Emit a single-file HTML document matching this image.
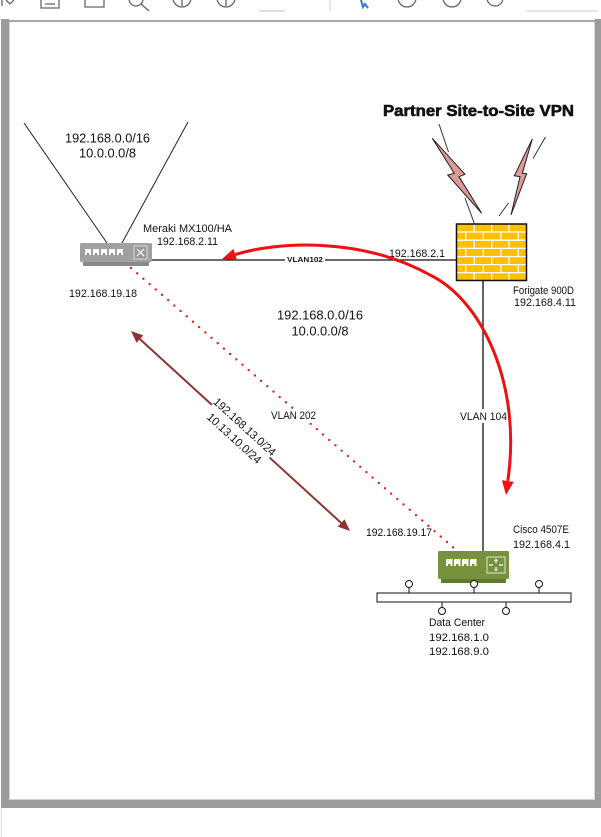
<!DOCTYPE html>
<html>
<head>
<meta charset="utf-8">
<style>
  html,body{margin:0;padding:0;background:#fff;}
  svg{display:block;}
  text{font-family:"Liberation Sans",Arial,sans-serif;fill:#111;}
</style>
</head>
<body>
<svg width="601" height="837" viewBox="0 0 601 837" xmlns="http://www.w3.org/2000/svg">
  <!-- page background -->
  <rect x="0" y="0" width="601" height="837" fill="#ffffff"/>

  <!-- toolbar remnants -->
  <g fill="none" stroke="#666" stroke-width="1.3">
    <path d="M2,0 L2,6 M6,0 L10,4 L14,0"/>
    <path d="M41,0 L41,8 L59,8 L59,0 M45,4 L55,4"/>
    <path d="M85,0 L85,7 L104,7 L104,0"/>
    <circle cx="136" cy="-1" r="7"/>
    <path d="M141,4 L149,11"/>
    <circle cx="182" cy="-2" r="9"/>
    <path d="M182,-2 L182,6"/>
    <circle cx="226" cy="-2" r="9"/>
    <path d="M226,-2 L226,6"/>
    <circle cx="407" cy="-2" r="9"/>
    <circle cx="452" cy="-2" r="9"/>
    <circle cx="495" cy="-2" r="8"/>
  </g>
  <path d="M259,11 L285,11" stroke="#bbb" stroke-width="1"/>
  <path d="M330,0 L330,11" stroke="#ccc" stroke-width="1"/>
  <path d="M527,11 L598,11" stroke="#ccc" stroke-width="1"/>
  <path d="M361,0 L363,7 L365,4 L368,8" stroke="#2a7ad8" stroke-width="2" fill="none"/>

  <!-- frame -->
  <rect x="1" y="19" width="8" height="789" fill="#9c9c9c"/>
  <rect x="595" y="19" width="6" height="789" fill="#9c9c9c"/>
  <rect x="1" y="800" width="600" height="8" fill="#9c9c9c"/>
  <rect x="9" y="20" width="586" height="2" fill="#a8a8a8"/>
  <rect x="9" y="22" width="586" height="778" fill="#ffffff"/>
  <path d="M9.5,22 L9.5,799.5 L594.5,799.5 L594.5,22" fill="none" stroke="#d4d4d4" stroke-width="1"/>
  <path d="M1.5,808 L1.5,837" stroke="#e2e2e2" stroke-width="1.5"/>

  <!-- V lines at Meraki -->
  <path d="M24,123 L107,243" stroke="#222" stroke-width="1"/>
  <path d="M188,122 L122,243" stroke="#222" stroke-width="1"/>

  <!-- horizontal VLAN102 line -->
  <path d="M152,260 L457,260" stroke="#111" stroke-width="1.3"/>
  <!-- vertical VLAN104 line -->
  <path d="M483,281 L483,551" stroke="#111" stroke-width="1.3"/>

  <!-- bolt connector lines -->
  <g stroke="#333" stroke-width="1">
    <path d="M439,124 L448.5,152"/>
    <path d="M465,198 L474.5,224"/>
    <path d="M545.5,137 L533,158.5"/>
    <path d="M508.5,203 L499,216"/>
  </g>
  <!-- lightning bolts -->
  <polygon points="432.3,138.3 465,174.3 459,176.7 481.7,213.3 447.7,175 454.3,173.3" fill="#dc9a98" stroke="#222" stroke-width="1"/>
  <polygon points="532.3,139 514.3,175.7 520,176.7 511,215 526.7,173.7 522.3,173.3" fill="#dc9a98" stroke="#222" stroke-width="1"/>

  <!-- title -->
  <text x="478.5" y="116" font-size="15.5" font-weight="bold" text-anchor="middle" textLength="191" lengthAdjust="spacingAndGlyphs" stroke="#111" stroke-width="0.6">Partner Site-to-Site VPN</text>

  <!-- firewall -->
  <rect x="456.5" y="224" width="70" height="56.5" fill="#ffc000"/>
  <g stroke="#ffffff" stroke-width="1.3">
    <path d="M456.5,232 L526.5,232 M456.5,240.2 L526.5,240.2 M456.5,248.4 L526.5,248.4 M456.5,256.6 L526.5,256.6 M456.5,264.6 L526.5,264.6 M456.5,272.6 L526.5,272.6"/>
    <path d="M474.3,224 L474.3,232 M491.7,224 L491.7,232 M509,224 L509,232"/>
    <path d="M465.7,232 L465.7,240.2 M483.3,232 L483.3,240.2 M501,232 L501,240.2 M518.3,232 L518.3,240.2"/>
    <path d="M474.3,240.2 L474.3,248.4 M491.7,240.2 L491.7,248.4 M509,240.2 L509,248.4"/>
    <path d="M465.7,248.4 L465.7,256.6 M483.3,248.4 L483.3,256.6 M501,248.4 L501,256.6 M518.3,248.4 L518.3,256.6"/>
    <path d="M474.3,256.6 L474.3,264.6 M491.7,256.6 L491.7,264.6 M509,256.6 L509,264.6"/>
    <path d="M465.7,264.6 L465.7,272.6 M483.3,264.6 L483.3,272.6 M501,264.6 L501,272.6 M518.3,264.6 L518.3,272.6"/>
    <path d="M474.3,272.6 L474.3,280.5 M491.7,272.6 L491.7,280.5 M509,272.6 L509,280.5"/>
  </g>
  <rect x="456.5" y="224" width="70" height="56.5" fill="none" stroke="#111" stroke-width="1.5"/>

  <!-- Meraki device -->
  <rect x="83" y="260" width="66" height="6" rx="1" fill="#8a8a8a"/>
  <rect x="80" y="243" width="72" height="19" rx="1.5" fill="#a0a0a0"/>
  <g fill="#ffffff">
    <rect x="85" y="249" width="6" height="6"/>
    <rect x="93" y="249" width="6" height="6"/>
    <rect x="101" y="249" width="6" height="6"/>
    <rect x="109" y="249" width="6" height="6"/>
    <rect x="117" y="249" width="6" height="6"/>
  </g>
  <g fill="#8a8a8a">
    <rect x="87" y="253" width="2" height="2"/>
    <rect x="95" y="253" width="2" height="2"/>
    <rect x="103" y="253" width="2" height="2"/>
    <rect x="111" y="253" width="2" height="2"/>
    <rect x="119" y="253" width="2" height="2"/>
  </g>
  <rect x="134" y="246" width="13" height="13" fill="#999" stroke="#d8d8d8" stroke-width="1"/>
  <path d="M137,249 L144,256 M144,249 L137,256" stroke="#fff" stroke-width="1.2"/>

  <!-- Cisco device -->
  <rect x="441" y="577" width="65" height="6" rx="1" fill="#5f7a2e"/>
  <rect x="438" y="551" width="71" height="28" rx="1.5" fill="#76923c"/>
  <g fill="#ffffff">
    <rect x="446" y="559" width="6.5" height="7"/>
    <rect x="454" y="559" width="6.5" height="7"/>
    <rect x="462" y="559" width="6.5" height="7"/>
    <rect x="470" y="559" width="6.5" height="7"/>
  </g>
  <g fill="#76923c">
    <rect x="448" y="564" width="2.5" height="2"/>
    <rect x="456" y="564" width="2.5" height="2"/>
    <rect x="464" y="564" width="2.5" height="2"/>
    <rect x="472" y="564" width="2.5" height="2"/>
  </g>
  <rect x="487" y="557" width="18" height="16" fill="none" stroke="#dfe8cc" stroke-width="1"/>
  <g stroke="#fff" stroke-width="1.2" fill="none">
    <path d="M496,559 L496,563 M496,567 L496,571 M489,565 L493,565 M499,565 L503,565"/>
  </g>
  <g fill="#fff">
    <polygon points="494,561 496,558.5 498,561"/>
    <polygon points="494,569 496,571.5 498,569"/>
  </g>

  <!-- bus bar -->
  <rect x="377" y="593" width="194" height="9" fill="#fff" stroke="#111" stroke-width="1"/>
  <g stroke="#111" stroke-width="1" fill="#fff">
    <path d="M409,587.5 L409,593 M474,587.5 L474,593 M539,587.5 L539,593"/>
    <path d="M442,602 L442,607.5 M506,602 L506,607.5"/>
    <circle cx="409" cy="584" r="3.5"/>
    <circle cx="474" cy="584" r="3.5"/>
    <circle cx="539" cy="584" r="3.5"/>
    <circle cx="442" cy="611" r="3.5"/>
    <circle cx="506" cy="611" r="3.5"/>
  </g>

  <!-- red dotted line -->
  <path d="M131,268 L455,549" stroke="#e02020" stroke-width="2.4" stroke-linecap="round" stroke-dasharray="0 8.2" fill="none"/>

  <!-- brown double arrow -->
  <path d="M139.9,339.1 L341.1,522.9" stroke="#8e3431" stroke-width="2"/>
  <polygon points="131,331 136.5,342.8 143.3,335.4" fill="#8e3431"/>
  <polygon points="350,531 337.7,526.6 344.5,519.2" fill="#8e3431"/>

  <!-- white label backgrounds -->
  <rect x="285" y="255" width="40" height="9" fill="#fff"/>
  <rect x="269" y="409" width="49" height="14" fill="#fff"/>
  <rect x="459" y="409" width="49" height="14" fill="#fff"/>
  <g transform="translate(239.5,432.5) rotate(42.4)">
    <rect x="-39" y="-16" width="78" height="32" fill="#fff"/>
    <text x="0" y="-3.8" font-size="11.5" text-anchor="middle" textLength="80" lengthAdjust="spacingAndGlyphs">192.168.13.0/24</text>
    <text x="0" y="11.8" font-size="11.5" text-anchor="middle" textLength="69" lengthAdjust="spacingAndGlyphs">10.13.10.0/24</text>
  </g>

  <!-- labels -->
  <text x="107.5" y="142.5" font-size="13" text-anchor="middle" textLength="85" lengthAdjust="spacingAndGlyphs">192.168.0.0/16</text>
  <text x="107.5" y="157.5" font-size="13" text-anchor="middle" textLength="57" lengthAdjust="spacingAndGlyphs">10.0.0.0/8</text>

  <text x="143" y="232" font-size="11" textLength="89" lengthAdjust="spacingAndGlyphs">Meraki MX100/HA</text>
  <text x="187.5" y="245" font-size="11" text-anchor="middle" textLength="61" lengthAdjust="spacingAndGlyphs">192.168.2.11</text>
  <text x="103" y="297" font-size="11" text-anchor="middle" textLength="68" lengthAdjust="spacingAndGlyphs">192.168.19.18</text>

  <text x="389" y="257" font-size="11" textLength="56" lengthAdjust="spacingAndGlyphs">192.168.2.1</text>
  <text x="305" y="262" font-size="7.5" font-weight="bold" text-anchor="middle" textLength="36" lengthAdjust="spacingAndGlyphs">VLAN102</text>

  <text x="513" y="294" font-size="11" textLength="61" lengthAdjust="spacingAndGlyphs">Forigate 900D</text>
  <text x="514" y="306" font-size="11" textLength="62" lengthAdjust="spacingAndGlyphs">192.168.4.11</text>

  <text x="320" y="319.5" font-size="13" text-anchor="middle" textLength="86" lengthAdjust="spacingAndGlyphs">192.168.0.0/16</text>
  <text x="320" y="335.5" font-size="13" text-anchor="middle" textLength="57" lengthAdjust="spacingAndGlyphs">10.0.0.0/8</text>

  <text x="293.5" y="419" font-size="11" text-anchor="middle" textLength="45" lengthAdjust="spacingAndGlyphs">VLAN 202</text>
  <text x="483.5" y="420" font-size="11" text-anchor="middle" textLength="47" lengthAdjust="spacingAndGlyphs">VLAN 104</text>

  <text x="366" y="536" font-size="11" textLength="66" lengthAdjust="spacingAndGlyphs">192.168.19.17</text>
  <text x="513" y="533" font-size="11" textLength="56" lengthAdjust="spacingAndGlyphs">Cisco 4507E</text>
  <text x="513" y="548" font-size="11" textLength="57" lengthAdjust="spacingAndGlyphs">192.168.4.1</text>

  <text x="429" y="626" font-size="11" textLength="56" lengthAdjust="spacingAndGlyphs">Data Center</text>
  <text x="429" y="641" font-size="11" textLength="60" lengthAdjust="spacingAndGlyphs">192.168.1.0</text>
  <text x="429" y="655" font-size="11" textLength="60" lengthAdjust="spacingAndGlyphs">192.168.9.0</text>

  <!-- red curved arrow -->
  <path d="M235.3,254.6 C275,242 360,236 430,275 C482,300 522,385 507.8,481" fill="none" stroke="#ee1111" stroke-width="3"/>
  <polygon points="222,259 233.4,248.9 237.2,260.3" fill="#ee1111"/>
  <polygon points="506,495 501.9,480.3 513.7,481.9" fill="#ee1111"/>
</svg>
</body>
</html>
